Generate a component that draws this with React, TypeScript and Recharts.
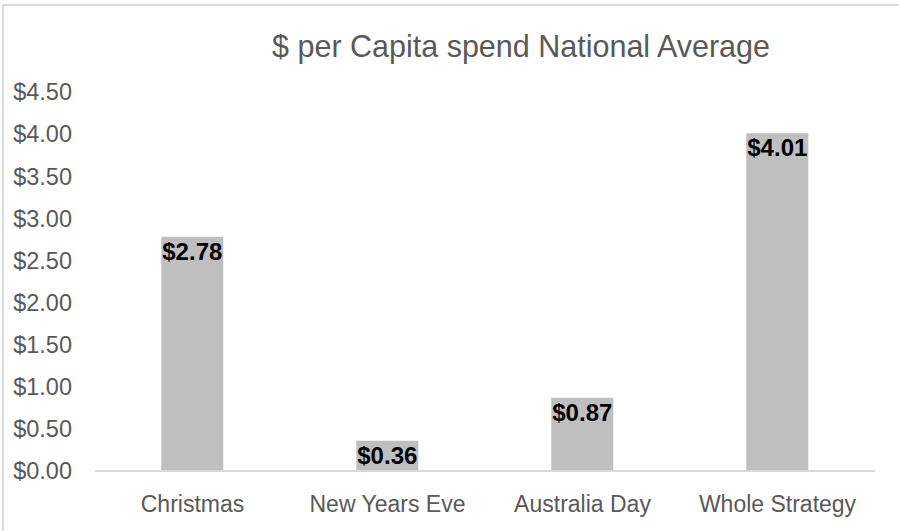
import { Bar, BarChart, LabelList, XAxis, YAxis } from "recharts";

const categories = ["Christmas", "New Years Eve", "Australia Day", "Whole Strategy"];
const spend = [2.78, 0.36, 0.87, 4.01];
const yTicks = [0, 0.5, 1, 1.5, 2, 2.5, 3, 3.5, 4, 4.5];

const data = categories.map((name, i) => ({ name, spend: spend[i] }));

const FONT = "'Liberation Sans', Arial, sans-serif";
const money = (v: number) => `$${Number(v).toFixed(2)}`;

export default function App() {
  return (
    <div
      style={{
        position: "absolute",
        left: 0,
        top: 0,
        width: 899,
        height: 531,
        overflow: "hidden",
        background: "#fff",
        fontFamily: FONT
      }}
    >
      <svg
        width={899}
        height={531}
        style={{ position: "absolute", left: 0, top: 0, pointerEvents: "none" }}
      >
        <rect x={3} y={5} width={1000} height={1000} fill="none" stroke="#d9d9d9" strokeWidth={2} />
        <text x={521} y={57} textAnchor="middle" fontSize={30.5} fill="#595959" fontFamily={FONT}>
          $ per Capita spend National Average
        </text>
      </svg>
      <BarChart
        width={899}
        height={531}
        data={data}
        margin={{ top: 92, right: 24, bottom: 0, left: 0 }}
        barCategoryGap="34%"
        style={{ position: "absolute", left: 0, top: 0 }}
      >
        <XAxis
          dataKey="name"
          height={60}
          tickLine={false}
          tickSize={0}
          tickMargin={25}
          axisLine={{ stroke: "#d9d9d9", strokeWidth: 2 }}
          tick={{ fill: "#595959", fontSize: 23, fontFamily: FONT }}
          interval={0}
        />
        <YAxis
          width={95}
          domain={[0, 4.5]}
          ticks={yTicks}
          interval={0}
          axisLine={false}
          tickLine={false}
          tickSize={0}
          tickMargin={23}
          tickFormatter={money}
          tick={{ fill: "#595959", fontSize: 23.5, fontFamily: FONT }}
        />
        <Bar dataKey="spend" fill="#bfbfbf" isAnimationActive={false}>
          <LabelList
            dataKey="spend"
            position="insideTop"
            offset={6}
            formatter={(v: any) => money(v)}
            fill="#000"
            fontSize={24}
            fontWeight="bold"
            fontFamily={FONT}
          />
        </Bar>
      </BarChart>
    </div>
  );
}
